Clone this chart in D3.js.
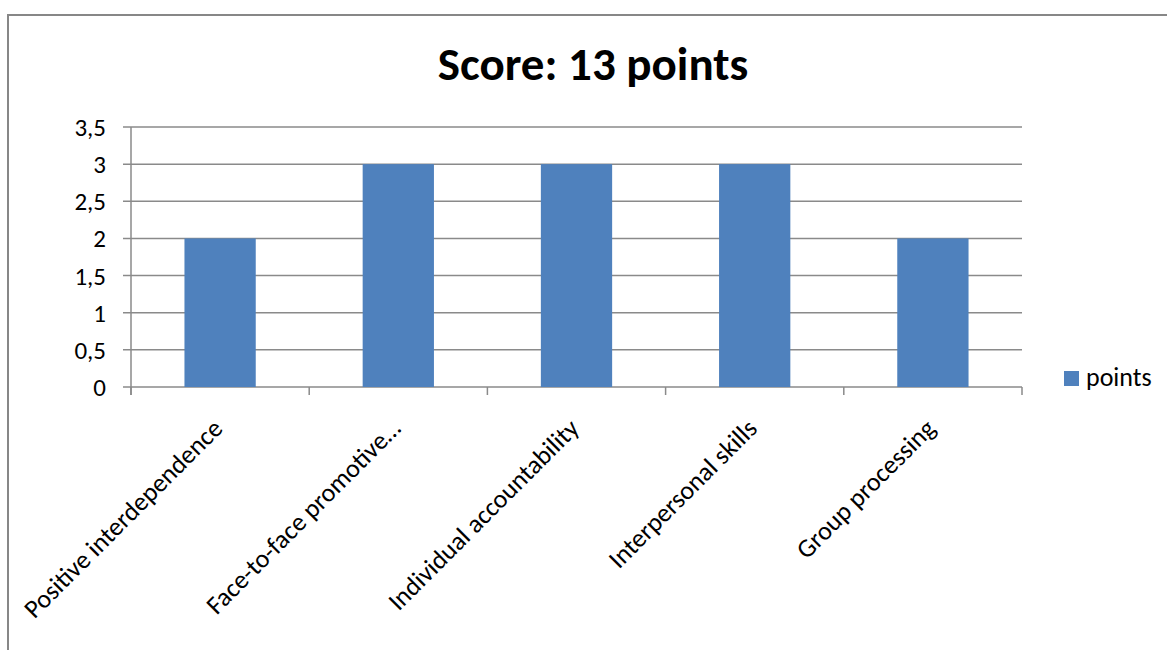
<!DOCTYPE html>
<html>
<head>
<meta charset="utf-8">
<script src="https://cdn.jsdelivr.net/npm/d3@7"></script>
<style>
  body { margin: 0; background: #fff; }
  text { font-family: Carlito, Calibri, Lato, sans-serif; fill: #000; }
</style>
</head>
<body>
<div id="chart"></div>
<script>
// data
var categories = ["Positive interdependence", "Face-to-face promotive…", "Individual accountability", "Interpersonal skills", "Group processing"];
var points = [2, 3, 3, 3, 2];
var yTicks = [0, 0.5, 1, 1.5, 2, 2.5, 3, 3.5];
var title = "Score: 13 points";
var seriesName = "points";

var W = 1167, H = 650;
var margin = {top: 127, right: 145, bottom: 263, left: 131};
var width = W - margin.left - margin.right,
    height = H - margin.top - margin.bottom;

var svg = d3.select("#chart").append("svg")
    .attr("width", W)
    .attr("height", H);

// outer frame (only left and top visible)
svg.append("path")
    .attr("d", "M8," + (H + 5) + "V15H" + (W + 5))
    .attr("fill", "none")
    .attr("stroke", "#878787")
    .attr("stroke-width", 2);

svg.append("text")
    .attr("x", 593)
    .attr("y", 80)
    .attr("text-anchor", "middle")
    .style("font-size", "47px")
    .style("font-weight", "bold")
    .text(title);

var g = svg.append("g")
    .attr("transform", "translate(" + margin.left + "," + margin.top + ")");

var x = d3.scaleBand()
    .domain(categories)
    .range([0, width])
    .paddingInner(0.6)
    .paddingOuter(0.3);

var y = d3.scaleLinear()
    .domain([0, 3.5])
    .range([height, 0]);

// gridlines
g.append("g")
  .selectAll("line")
  .data(yTicks)
  .enter()
  .append("line")
    .attr("x1", -8)
    .attr("x2", width)
    .attr("y1", function (d) { return y(d); })
    .attr("y2", function (d) { return y(d); })
    .attr("stroke", "#8a8a8a")
    .attr("stroke-width", 1.5);

// y axis line
g.append("line")
    .attr("x1", 0).attr("x2", 0)
    .attr("y1", 0).attr("y2", height + 8)
    .attr("stroke", "#8a8a8a")
    .attr("stroke-width", 1.5);

// y tick labels
g.append("g")
  .selectAll("text")
  .data(yTicks)
  .enter()
  .append("text")
    .attr("x", -25)
    .attr("y", function (d) { return y(d); })
    .attr("dy", "0.36em")
    .attr("text-anchor", "end")
    .style("font-size", "25px")
    .text(function (d) { return String(d).replace(".", ","); });

// bars
g.append("g")
  .selectAll("rect")
  .data(points)
  .enter()
  .append("rect")
    .attr("x", function (d, i) { return x(categories[i]); })
    .attr("y", function (d) { return y(d); })
    .attr("width", x.bandwidth())
    .attr("height", function (d) { return height - y(d); })
    .attr("fill", "#4f81bd");

// x axis ticks at category boundaries
var step = width / categories.length;
g.append("g")
  .selectAll("line")
  .data(d3.range(categories.length + 1))
  .enter()
  .append("line")
    .attr("x1", function (i) { return i * step; })
    .attr("x2", function (i) { return i * step; })
    .attr("y1", height)
    .attr("y2", height + 8)
    .attr("stroke", "#8a8a8a")
    .attr("stroke-width", 1.5);

// rotated category labels
g.append("g")
  .selectAll("text")
  .data(categories)
  .enter()
  .append("text")
    .attr("text-anchor", "end")
    .attr("transform", function (d) {
      return "translate(" + (x(d) + x.bandwidth() / 2 + 4) + "," + (height + 43) + ") rotate(-45)";
    })
    .style("font-size", "26px")
    .text(function (d) { return d; });

// legend
var leg = svg.append("g").attr("transform", "translate(1064,371)");
leg.append("rect")
    .attr("width", 15).attr("height", 15)
    .attr("fill", "#4f81bd");
leg.append("text")
    .attr("x", 22).attr("y", 15)
    .style("font-size", "26px")
    .text(seriesName);
</script>
</body>
</html>
